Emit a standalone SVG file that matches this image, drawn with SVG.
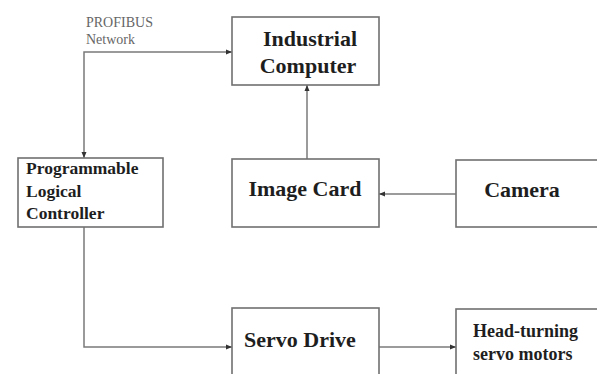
<svg xmlns="http://www.w3.org/2000/svg" width="597" height="374" viewBox="0 0 597 374">
<style>
.box{fill:#fff;stroke:#707070;stroke-width:1.6}
.t{font-family:"Liberation Serif","Times New Roman",serif;font-weight:bold;fill:#1e1e1e}
.big{font-size:22px}
.mid{font-size:17.5px}
.lbl{font-family:"Liberation Serif","Times New Roman",serif;font-size:14px;fill:#666}
.c{fill:none;stroke:#7a7a7a;stroke-width:1.5}
</style>
<defs>
<marker id="ah" viewBox="0 0 6 6" refX="6" refY="3" markerWidth="6" markerHeight="6" markerUnits="userSpaceOnUse" orient="auto-start-reverse">
<path d="M0,0.5 L6,3 L0,5.5 Z" fill="#333"/>
</marker>
</defs>
<rect width="597" height="374" fill="#fff"/>
<g id="connectors">
<path class="c" d="M84,158 V52 H232" marker-start="url(#ah)" marker-end="url(#ah)"/>
<path class="c" d="M307,159 V85" marker-end="url(#ah)"/>
<path class="c" d="M456,194 H379" marker-end="url(#ah)"/>
<path class="c" d="M84,227 V347 H232" marker-end="url(#ah)"/>
<path class="c" d="M379,347 H456" marker-end="url(#ah)"/>
</g>
<g id="profibus-label">
<text class="lbl" x="86" y="27">PROFIBUS</text>
<text class="lbl" x="86" y="44">Network</text>
</g>
<g id="industrial-computer">
<rect class="box" x="232" y="17" width="147" height="68"/>
<text class="t big" x="310" y="46" text-anchor="middle">Industrial</text>
<text class="t big" x="308" y="73" text-anchor="middle">Computer</text>
</g>
<g id="plc">
<rect class="box" x="18" y="158" width="145" height="69"/>
<text class="t mid" x="26" y="174">Programmable</text>
<text class="t mid" x="26" y="197">Logical</text>
<text class="t mid" x="26" y="219">Controller</text>
</g>
<g id="image-card">
<rect class="box" x="232" y="159" width="147" height="68"/>
<text class="t big" x="305" y="196" text-anchor="middle">Image Card</text>
</g>
<g id="camera">
<rect class="box" x="456" y="160" width="150" height="67"/>
<text class="t big" x="522" y="197" text-anchor="middle">Camera</text>
</g>
<g id="servo-drive">
<rect class="box" x="232" y="308" width="147" height="80"/>
<text class="t big" x="300" y="347" text-anchor="middle">Servo Drive</text>
</g>
<g id="servo-motors">
<rect class="box" x="456" y="309" width="150" height="80"/>
<text class="t" style="font-size:18px" x="473" y="337">Head-turning</text>
<text class="t" style="font-size:18px" x="473" y="360">servo motors</text>
</g>
</svg>
